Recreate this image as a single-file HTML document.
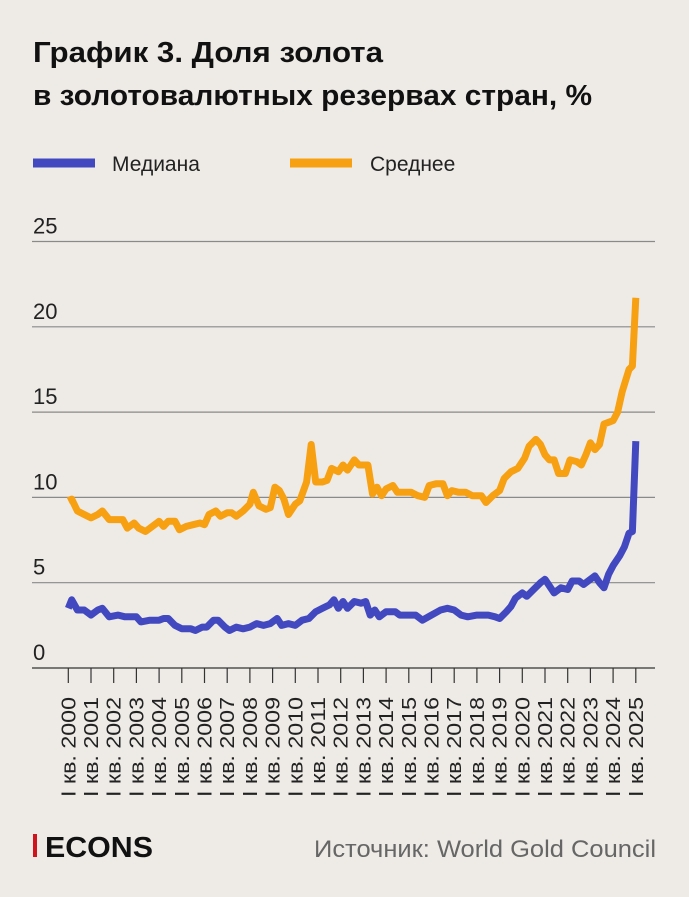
<!DOCTYPE html>
<html><head><meta charset="utf-8"><style>
body{margin:0;background:#eeebe6;width:689px;height:897px;overflow:hidden;font-family:"Liberation Sans",sans-serif;}
</style></head><body>
<svg id="s" width="689" height="897" xmlns="http://www.w3.org/2000/svg" style="position:absolute;left:0;top:0">
<text x="33" y="62" font-size="29" font-weight="bold" fill="#111" textLength="350" lengthAdjust="spacingAndGlyphs">График 3. Доля золота</text>
<text x="33" y="105" font-size="29" font-weight="bold" fill="#111" textLength="559" lengthAdjust="spacingAndGlyphs">в золотовалютных резервах стран, %</text>
<line x1="33" y1="163" x2="95" y2="163" stroke="#4249c0" stroke-width="9"/>
<text x="112" y="171" font-size="21" fill="#222">Медиана</text>
<line x1="290" y1="163" x2="352" y2="163" stroke="#f7a012" stroke-width="9"/>
<text x="370" y="171" font-size="21" fill="#222">Среднее</text>
<g id="g"></g>
<rect x="33" y="834" width="4" height="23" fill="#d0141d"/>
<text x="45" y="857" font-size="29" font-weight="bold" fill="#111" textLength="108" lengthAdjust="spacingAndGlyphs">ECONS</text>
<text x="656" y="857" font-size="24" fill="#666" text-anchor="end" textLength="342" lengthAdjust="spacingAndGlyphs">Источник: World Gold Council</text>
</svg>
<script>
var g=document.getElementById('g'),h='';
function X(t){return 68.3+(t-2000)*22.7}
function Y(v){return 668-v*17.06}
[25,20,15,10,5,0].forEach(function(v){var y=Y(v);
 if(v>0)h+='<line x1="32" x2="655" y1="'+y+'" y2="'+y+'" stroke="#8a8a8a" stroke-width="1.2"/>';
 h+='<text x="33" y="'+(y-8)+'" font-size="22" fill="#222">'+v+'</text>';});
h+='<line x1="32" x2="655" y1="668" y2="668" stroke="#333" stroke-width="1.2"/>';
for(var yr=2000;yr<=2025;yr++){var x=X(yr);
 h+='<line x1="'+x+'" x2="'+x+'" y1="668" y2="683" stroke="#333" stroke-width="1.2"/>';
 h+='<text transform="translate('+(x+7)+',697) rotate(-90)" font-size="20" fill="#222" text-anchor="end" textLength="100" lengthAdjust="spacingAndGlyphs">I кв. '+yr+'</text>';}
var med=[2000,3.5,2000.15,4.0,2000.4,3.4,2000.7,3.4,2001,3.1,2001.3,3.4,2001.5,3.5,2001.8,3.0,2002.2,3.1,2002.5,3.0,2003,3.0,2003.2,2.7,2003.6,2.8,2004,2.8,2004.2,2.9,2004.4,2.9,2004.7,2.5,2005,2.3,2005.4,2.3,2005.6,2.2,2005.9,2.4,2006.1,2.4,2006.4,2.8,2006.6,2.8,2006.9,2.4,2007.1,2.2,2007.4,2.4,2007.7,2.3,2008,2.4,2008.3,2.6,2008.6,2.5,2008.9,2.6,2009.2,2.9,2009.4,2.5,2009.7,2.6,2010,2.5,2010.3,2.8,2010.6,2.9,2010.9,3.3,2011.2,3.5,2011.5,3.7,2011.7,4.0,2011.9,3.5,2012.1,3.9,2012.3,3.5,2012.6,3.9,2012.9,3.8,2013.1,3.9,2013.3,3.1,2013.5,3.4,2013.7,3.0,2014,3.3,2014.4,3.3,2014.6,3.1,2015,3.1,2015.3,3.1,2015.6,2.8,2016,3.1,2016.4,3.4,2016.7,3.5,2017,3.4,2017.3,3.1,2017.6,3.0,2018,3.1,2018.5,3.1,2018.8,3.0,2019,2.9,2019.3,3.3,2019.5,3.6,2019.7,4.1,2020,4.4,2020.2,4.2,2020.5,4.6,2020.8,5.0,2021,5.2,2021.2,4.8,2021.4,4.4,2021.7,4.7,2022,4.6,2022.2,5.1,2022.5,5.1,2022.7,4.9,2023,5.2,2023.2,5.4,2023.4,5.0,2023.6,4.7,2023.8,5.5,2024,6.0,2024.3,6.6,2024.5,7.1,2024.7,7.9,2024.85,8.0,2025,13.3];
var mean=[2000,9.8,2000.15,9.9,2000.4,9.2,2000.7,9.0,2001,8.8,2001.3,9.0,2001.5,9.2,2001.8,8.7,2002.1,8.7,2002.4,8.7,2002.6,8.2,2002.9,8.5,2003.1,8.2,2003.4,8.0,2003.7,8.3,2004,8.6,2004.2,8.3,2004.4,8.6,2004.7,8.6,2004.9,8.1,2005.2,8.3,2005.5,8.4,2005.8,8.5,2006,8.4,2006.2,9.0,2006.5,9.2,2006.7,8.9,2007,9.1,2007.2,9.1,2007.4,8.9,2007.7,9.2,2008,9.6,2008.15,10.3,2008.4,9.5,2008.7,9.3,2008.9,9.4,2009.1,10.6,2009.3,10.4,2009.5,9.9,2009.7,9.0,2010,9.6,2010.2,9.8,2010.5,10.9,2010.7,13.1,2010.9,10.9,2011.2,10.9,2011.4,11.0,2011.6,11.7,2011.9,11.5,2012.1,11.9,2012.3,11.6,2012.6,12.2,2012.8,11.9,2013,11.9,2013.2,11.9,2013.4,10.2,2013.6,10.6,2013.8,10.1,2014,10.5,2014.3,10.7,2014.5,10.3,2014.8,10.3,2015.1,10.3,2015.4,10.1,2015.7,10.0,2015.9,10.7,2016.2,10.8,2016.5,10.8,2016.7,10.1,2016.9,10.4,2017.2,10.3,2017.5,10.3,2017.8,10.1,2018.2,10.1,2018.4,9.7,2018.7,10.1,2019,10.4,2019.2,11.1,2019.5,11.5,2019.8,11.7,2020.1,12.3,2020.3,13.0,2020.6,13.4,2020.8,13.1,2021,12.5,2021.2,12.2,2021.4,12.2,2021.6,11.4,2021.9,11.4,2022.1,12.2,2022.4,12.1,2022.6,11.9,2022.8,12.5,2023,13.2,2023.2,12.8,2023.4,13.1,2023.6,14.3,2023.8,14.4,2024,14.5,2024.2,15.0,2024.4,16.2,2024.7,17.5,2024.85,17.7,2025,21.7];
function pl(a,c){var p=[];for(var i=0;i<a.length;i+=2)p.push(X(a[i]).toFixed(1)+','+Y(a[i+1]).toFixed(1));
 return '<polyline points="'+p.join(' ')+'" fill="none" stroke="'+c+'" stroke-width="7" stroke-linejoin="round"/>';}
h+=pl(mean,'#f7a012')+pl(med,'#4249c0');
g.innerHTML=h;
</script>
</body></html>
